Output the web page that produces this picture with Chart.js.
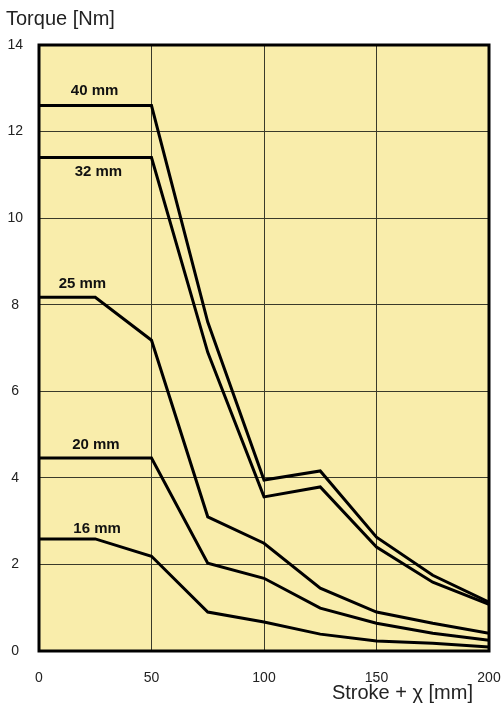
<!DOCTYPE html>
<html>
<head>
<meta charset="utf-8">
<script src="https://cdn.jsdelivr.net/npm/chart.js@4/dist/chart.umd.min.js"></script>
<style>
  html, body { margin: 0; padding: 0; background: #ffffff; }
  #wrap { position: relative; width: 504px; height: 707px; }
</style>
</head>
<body>
<div id="wrap"><canvas id="c"></canvas></div>
<script>
// ---- Data ----
const strokeValues = [0, 25, 50, 75, 100, 125, 150, 175, 200];
const torque40 = [12.6, 12.6, 12.6, 7.6, 3.95, 4.16, 2.63, 1.75, 1.13];
const torque32 = [11.4, 11.4, 11.4, 6.9, 3.56, 3.79, 2.40, 1.59, 1.08];
const torque25 = [8.17, 8.17, 7.18, 3.10, 2.49, 1.45, 0.90, 0.64, 0.41];
const torque20 = [4.46, 4.46, 4.46, 2.03, 1.68, 0.99, 0.64, 0.41, 0.25];
const torque16 = [2.59, 2.59, 2.19, 0.90, 0.67, 0.39, 0.23, 0.18, 0.09];
const seriesNames = ['40 mm', '32 mm', '25 mm', '20 mm', '16 mm'];
const xTicks = [0, 50, 100, 150, 200];
const yTicks = [0, 2, 4, 6, 8, 10, 12, 14];
const yTitle = 'Torque [Nm]';
const xTitle = 'Stroke + \u03C7 [mm]';
// label anchor points (data coordinates) for the series names
const labelX = [24.7, 26.4, 19.3, 25.3, 25.8];
const labelY = [12.95, 11.08, 8.49, 4.77, 2.83];

const allSeries = [torque40, torque32, torque25, torque20, torque16];

const datasets = allSeries.map((vals, i) => ({
  label: seriesNames[i],
  data: strokeValues.map((x, j) => ({ x: x, y: vals[j] })),
  borderColor: '#000000',
  borderWidth: 3,
  pointRadius: 0,
  fill: false,
  tension: 0,
  borderJoinStyle: 'miter'
}));

const bgPlugin = {
  id: 'bgPlugin',
  beforeDraw(chart) {
    const { ctx, chartArea: a } = chart;
    ctx.save();
    ctx.fillStyle = '#F9EDAB';
    ctx.fillRect(a.left, a.top, a.right - a.left, a.bottom - a.top);
    ctx.restore();
  },
  afterDatasetsDraw(chart) {
    const { ctx, chartArea: a, scales } = chart;
    ctx.save();
    ctx.strokeStyle = '#000000';
    ctx.lineWidth = 3;
    ctx.strokeRect(a.left, a.top, a.right - a.left, a.bottom - a.top);
    // series labels
    ctx.fillStyle = '#111111';
    ctx.font = 'bold 15px "Liberation Sans", Arial, sans-serif';
    ctx.textAlign = 'center';
    ctx.textBaseline = 'middle';
    seriesNames.forEach((n, i) => {
      ctx.fillText(n, scales.x.getPixelForValue(labelX[i]), scales.y.getPixelForValue(labelY[i]));
    });
    // axis titles
    ctx.fillStyle = '#222222';
    ctx.font = '20px "Liberation Sans", Arial, sans-serif';
    ctx.textAlign = 'left';
    ctx.textBaseline = 'alphabetic';
    ctx.fillText(yTitle, 6, 25);
    ctx.textAlign = 'right';
    ctx.fillText(xTitle, 473, 699);
    ctx.restore();
  }
};

new Chart(document.getElementById('c'), {
  type: 'line',
  data: { datasets },
  options: {
    responsive: true,
    maintainAspectRatio: false,
    animation: false,
    layout: { padding: { left: 0, top: 45, right: 15, bottom: 0 } },
    plugins: { legend: { display: false }, tooltip: { enabled: false } },
    scales: {
      x: {
        type: 'linear',
        min: 0, max: 200,
        afterBuildTicks: (s) => { s.ticks = xTicks.map(v => ({ value: v })); },
        afterFit: (s) => { s.height = 56; s.paddingLeft = 0; s.paddingRight = 0; },
        grid: { color: '#3a3a2a', lineWidth: 1, drawTicks: false },
        border: { display: false },
        ticks: { color: '#222222', font: { size: 14, family: '"Liberation Sans", Arial, sans-serif' }, padding: 19, maxRotation: 0 }
      },
      y: {
        type: 'linear',
        min: 0, max: 14,
        afterBuildTicks: (s) => { s.ticks = yTicks.map(v => ({ value: v })); },
        afterFit: (s) => { s.width = 39; s.paddingTop = 0; s.paddingBottom = 0; },
        grid: { color: '#3a3a2a', lineWidth: 1, drawTicks: false },
        border: { display: false },
        ticks: { color: '#222222', font: { size: 14, family: '"Liberation Sans", Arial, sans-serif' }, padding: 16, crossAlign: 'center' }
      }
    }
  },
  plugins: [bgPlugin]
});
</script>
</body>
</html>
